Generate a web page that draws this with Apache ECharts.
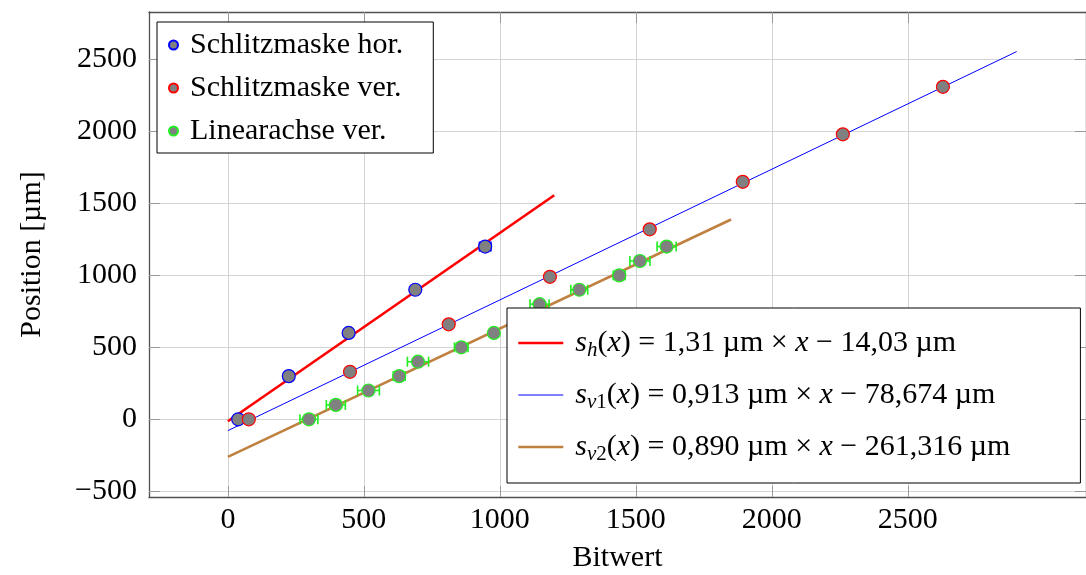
<!DOCTYPE html>
<html>
<head>
<meta charset="utf-8">
<script src="https://cdn.jsdelivr.net/npm/echarts@6/dist/echarts.min.js"></script>
<style>
html,body{margin:0;padding:0;background:#fff;}
#chart{width:1086px;height:575px;}
</style>
</head>
<body>
<div id="chart"></div>
<script>
// ---- Data ----
const xTickValues = [0, 500, 1000, 1500, 2000, 2500];
const yTickValues = [-500, 0, 500, 1000, 1500, 2000, 2500];

// Schlitzmaske hor. (blue edge)
const horX = [38, 224, 444, 689, 946];
const horY = [0, 300, 600, 900, 1200];
const horXErr = [5, 5, 5, 5, 21];

// Schlitzmaske ver. (red edge)
const verX = [77, 449, 812, 1184, 1551, 1893, 2261, 2629];
const verY = [0, 330, 660, 990, 1320, 1650, 1980, 2310];

// Linearachse ver. (green edge, with x error bars)
const linX = [298, 397, 517, 630, 699, 858, 978, 1060, 1146, 1292, 1439, 1515, 1613];
const linY = [0, 100, 200, 300, 400, 500, 600, 700, 800, 900, 1000, 1100, 1200];
const linXErr = [33, 35, 40, 22, 39, 25, 10, 30, 35, 31, 22, 37, 35];

// Fit lines (end points)
const fitHX = [0, 1200];
const fitHY = [-14, 1557];
const fitV1X = [0, 2900];
const fitV1Y = [-79, 2555];
const fitV2X = [0, 1850];
const fitV2Y = [-261, 1388];

const scatterNames = ['Schlitzmaske hor.', 'Schlitzmaske ver.', 'Linearachse ver.'];
const fitNames = ['sh', 'sv1', 'sv2'];
const fitLabels = [
  '{i|s}{subi|h}({i|x}) = 1,31 µm × {i|x} − 14,03 µm',
  '{i|s}{subi|v}{sub|1}({i|x}) = 0,913 µm × {i|x} − 78,674 µm',
  '{i|s}{subi|v}{sub|2}({i|x}) = 0,890 µm × {i|x} − 261,316 µm'
];

const FONT = '"Liberation Serif", "DejaVu Serif", serif';
const pairs = (xs, ys) => xs.map((x, i) => [x, ys[i]]);
const triples = (xs, ys, es) => xs.map((x, i) => [x, ys[i], es[i]]);

function errorBarSeries(data, color, xIdx) {
  return {
    type: 'custom',
    name: 'err' + xIdx,
    z: 3,
    silent: true,
    encode: {x: 0, y: 1},
    data: data,
    renderItem: function (params, api) {
      const x = api.value(0), y = api.value(1), e = api.value(2);
      const p1 = api.coord([x - e, y]);
      const p2 = api.coord([x + e, y]);
      const h = 5;
      const st = {stroke: color, lineWidth: 1.6};
      return {
        type: 'group',
        children: [
          {type: 'line', shape: {x1: p1[0], y1: p1[1], x2: p2[0], y2: p2[1]}, style: st},
          {type: 'line', shape: {x1: p1[0], y1: p1[1] - h, x2: p1[0], y2: p1[1] + h}, style: st},
          {type: 'line', shape: {x1: p2[0], y1: p2[1] - h, x2: p2[0], y2: p2[1] + h}, style: st}
        ]
      };
    }
  };
}

const minusFmt = v => String(v).replace('-', '\u2212');
const frameColor = '#505050';
const gridColor = '#d4d4d4';
const tickColor = '#9a9a9a';

const chart = echarts.init(document.getElementById('chart'), null, {renderer: 'canvas'});
const option = {
  animation: false,
  backgroundColor: '#ffffff',
  textStyle: {fontFamily: FONT},
  grid: {left: 149, right: 0, top: 12, bottom: 78, containLabel: false, outerBoundsMode: 'none'},
  xAxis: [{
    type: 'value', min: -290, max: 3155, position: 'bottom',
    name: 'Bitwert', nameLocation: 'middle', nameGap: 46,
    nameTextStyle: {fontFamily: FONT, fontSize: 30, color: '#000'},
    axisLine: {show: true, onZero: false, lineStyle: {color: frameColor, width: 1.3}},
    axisTick: {show: true, inside: true, length: 11, customValues: xTickValues, lineStyle: {color: tickColor, width: 1}},
    axisLabel: {customValues: xTickValues, fontFamily: FONT, fontSize: 30, color: '#000', margin: 8, formatter: minusFmt},
    splitLine: {show: true, lineStyle: {color: gridColor, width: 1}}
  }, {
    type: 'value', min: -290, max: 3155, position: 'top',
    axisLine: {show: true, onZero: false, lineStyle: {color: frameColor, width: 1.3}},
    axisTick: {show: true, inside: true, length: 11, customValues: xTickValues, lineStyle: {color: tickColor, width: 1}},
    axisLabel: {show: false},
    splitLine: {show: false}
  }],
  yAxis: [{
    type: 'value', min: -540, max: 2830, position: 'left',
    name: 'Position [µm]', nameLocation: 'middle', nameGap: 102, nameRotate: 90,
    nameTextStyle: {fontFamily: FONT, fontSize: 30, color: '#000'},
    axisLine: {show: true, onZero: false, lineStyle: {color: frameColor, width: 1.3}},
    axisTick: {show: true, inside: true, length: 11, customValues: yTickValues, lineStyle: {color: tickColor, width: 1}},
    axisLabel: {customValues: yTickValues, fontFamily: FONT, fontSize: 30, color: '#000', margin: 12, formatter: minusFmt},
    splitLine: {show: true, lineStyle: {color: gridColor, width: 1}}
  }, {
    type: 'value', min: -540, max: 2830, position: 'right',
    axisLine: {show: true, onZero: false, lineStyle: {color: frameColor, width: 1.3}},
    axisTick: {show: true, inside: true, length: 11, customValues: yTickValues, lineStyle: {color: tickColor, width: 1}},
    axisLabel: {show: false},
    splitLine: {show: false}
  }],
  legend: [{
    data: scatterNames,
    left: 157, top: 22, orient: 'vertical',
    backgroundColor: '#fff', borderColor: '#000', borderWidth: 1,
    padding: [6, 30, 5, 11], itemGap: 9, itemWidth: 9, itemHeight: 9,
    z: 10,
    textStyle: {fontFamily: FONT, fontSize: 30, color: '#000', lineHeight: 34, padding: [0, 0, 0, 7]}
  }, {
    data: fitNames,
    left: 507, top: 308, orient: 'vertical',
    backgroundColor: '#fff', borderColor: '#000', borderWidth: 1,
    padding: [17, 70, 18, 10], itemGap: 16, itemWidth: 45, itemHeight: 14,
    z: 10,
    itemStyle: {opacity: 0},
    lineStyle: {width: 'inherit'},
    formatter: function (name) { return fitLabels[fitNames.indexOf(name)]; },
    textStyle: {
      fontFamily: FONT, fontSize: 30, color: '#000', lineHeight: 36, padding: [0, 0, 0, 7],
      rich: {
        i: {fontFamily: FONT, fontSize: 30, fontStyle: 'italic', lineHeight: 36, verticalAlign: 'middle'},
        subi: {fontFamily: FONT, fontSize: 21, fontStyle: 'italic', lineHeight: 22, verticalAlign: 'bottom'},
        sub: {fontFamily: FONT, fontSize: 21, lineHeight: 22, verticalAlign: 'bottom'}
      }
    }
  }],
  series: [
    {name: 'sh', type: 'line', data: pairs(fitHX, fitHY), symbol: 'none', z: 2,
     lineStyle: {color: '#ff0000', width: 2.6}, itemStyle: {color: '#ff0000'}},
    {name: 'sv1', type: 'line', data: pairs(fitV1X, fitV1Y), symbol: 'none', z: 2,
     lineStyle: {color: '#0000ff', width: 1}, itemStyle: {color: '#0000ff'}},
    {name: 'sv2', type: 'line', data: pairs(fitV2X, fitV2Y), symbol: 'none', z: 2,
     lineStyle: {color: '#bf8040', width: 2.6}, itemStyle: {color: '#bf8040'}},
    errorBarSeries(triples(horX, horY, horXErr), '#0000ff', 1),
    errorBarSeries(triples(linX, linY, linXErr), '#22ee22', 2),
    {name: scatterNames[0], type: 'scatter', data: pairs(horX, horY), symbol: 'circle', symbolSize: 13, z: 4,
     itemStyle: {color: '#808080', borderColor: '#0000ff', borderWidth: 1.2, opacity: 1}},
    {name: scatterNames[1], type: 'scatter', data: pairs(verX, verY), symbol: 'circle', symbolSize: 13, z: 4,
     itemStyle: {color: '#808080', borderColor: '#ff0000', borderWidth: 1.2, opacity: 1}},
    {name: scatterNames[2], type: 'scatter', data: pairs(linX, linY), symbol: 'circle', symbolSize: 13, z: 4,
     itemStyle: {color: '#808080', borderColor: '#22ee22', borderWidth: 1.2, opacity: 1}}
  ]
};
chart.setOption(option);
</script>
</body>
</html>
